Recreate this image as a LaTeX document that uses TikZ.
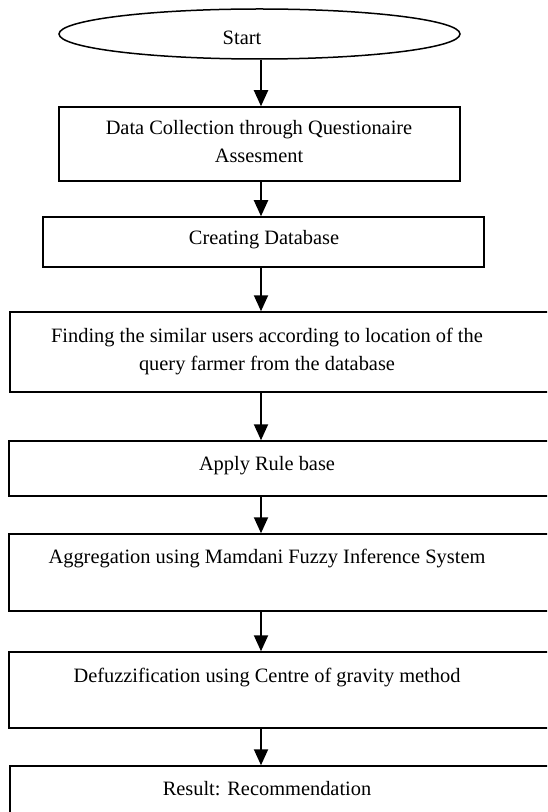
\documentclass[tikz,border=0pt]{standalone}
\usepackage{fontspec}
\setmainfont{Liberation Serif}
\usetikzlibrary{arrows.meta,shapes.geometric,fit}
\begin{document}
\begin{tikzpicture}[x=0.5pt,y=-0.5pt,
  box/.style={draw,line width=0.75pt,inner sep=0pt},
  oval/.style={draw,ellipse,line width=0.75pt,inner sep=0pt,minimum width=200.5pt,minimum height=25pt},
  lbl/.style={inner sep=0pt,anchor=base,font=\fontsize{10.2}{12}\selectfont},
  arr/.style={line width=1pt,-{Triangle[width=7pt,length=8pt]}}]
\useasboundingbox (0,0) rectangle (547,812);
\clip (0,0) rectangle (547,812);
\fill[white] (0,0) rectangle (547,812);

\node[oval] (start) at (259.5,34) {};
\node[lbl] (tstart) at (242,45) {Start};

\node[box,fit={(59,107) (460,181)}] (b1) {};
\node[lbl] (t1a) at (259,135) {Data Collection through Questionaire};
\node[lbl] (t1b) at (259,163) {Assesment};

\node[box,fit={(43,217) (484,267)}] (b2) {};
\node[lbl] (t2) at (264,245) {Creating Database};

\node[box,fit={(10,312) (560,392)}] (b3) {};
\node[lbl] (t3a) at (267,342) {Finding the similar users according to location of the};
\node[lbl] (t3b) at (267,370) {query farmer from the database};

\node[box,fit={(9,441) (560,496)}] (b4) {};
\node[lbl] (t4) at (267,470) {Apply Rule base};

\node[box,fit={(9,534) (560,611)}] (b5) {};
\node[lbl] (t5) at (267,563) {Aggregation using Mamdani Fuzzy Inference System};

\node[box,fit={(9,652) (560,728)}] (b6) {};
\node[lbl] (t6) at (267,682) {Defuzzification using Centre of gravity method};

\node[box,fit={(10,766) (560,840)}] (b7) {};
\node[lbl] (t7) at (267,795) {Result: Recommendation};

\coordinate (ax) at (261,0);
\draw[arr] (ax |- start.south) -- (ax |- b1.north);
\draw[arr] (ax |- b1.south) -- (ax |- b2.north);
\draw[arr] (ax |- b2.south) -- (ax |- b3.north);
\draw[arr] (ax |- b3.south) -- (ax |- b4.north);
\draw[arr] (ax |- b4.south) -- (ax |- b5.north);
\draw[arr] (ax |- b5.south) -- (ax |- b6.north);
\draw[arr] (ax |- b6.south) -- (ax |- b7.north);
\end{tikzpicture}
\end{document}
